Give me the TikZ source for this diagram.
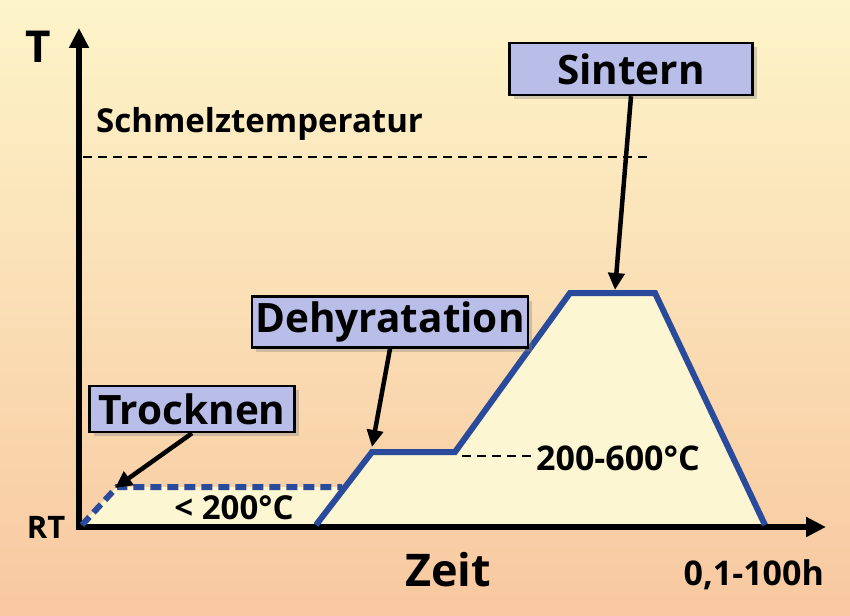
\documentclass[tikz,border=0pt]{standalone}
\usepackage{fontspec}
\setmainfont{Open Sans}
\usetikzlibrary{arrows.meta, shadows, positioning}

\definecolor{bgtop}{HTML}{FDF4C9}
\definecolor{bgbot}{HTML}{F8C8A0}
\definecolor{curveblue}{HTML}{2A4A9C}
\definecolor{areafill}{HTML}{FCF6D2}
\definecolor{boxfill}{HTML}{B9BEE8}

\begin{document}
\begin{tikzpicture}[x=1pt, y=-1pt,
    axis/.style={line width=6pt, {Triangle[length=20pt,width=19pt]}-{Triangle[length=20pt,width=19pt]}},
    phase/.style={draw=black, line width=2.5pt, fill=boxfill, inner sep=0pt,
      font=\bfseries\fontsize{40.5}{42}\selectfont,
      drop shadow={shadow xshift=4pt, shadow yshift=-4pt, opacity=0.35}},
    pointer/.style={line width=4.5pt, -{Triangle[length=17pt,width=16pt]}},
    heat/.style={draw=curveblue, line width=6pt, line join=miter},
    level/.style={line width=2.5pt, dash pattern=on 9pt off 6pt},
    txt/.style={font=\bfseries\fontsize{34}{36}\selectfont, inner sep=0pt}]
  \useasboundingbox (0,0) rectangle (850,615);
  \shade[top color=bgtop, bottom color=bgbot] (0,0) rectangle (850,615);

  % points of the heating curve
  \coordinate (o) at (79,527);
  \coordinate (d0) at (82,525);
  \coordinate (d1) at (117,487);
  \coordinate (d2) at (342,487);
  \coordinate (h0) at (316,525);
  \coordinate (h1) at (372,452);
  \coordinate (h2) at (455,452);
  \coordinate (h3) at (570,293);
  \coordinate (h4) at (655,293);
  \coordinate (h5) at (765,525);

  \fill[areafill] (o) -- (d1) -- (d2) -- (h1) -- (h2) -- (h3) -- (h4) -- (h5) |- cycle;

  % melting line
  \coordinate (m0) at (83,157);
  \coordinate (m1) at (650,157);
  \draw[level] (m0) -- (m1);
  \node[txt, font=\bfseries\fontsize{33}{35}\selectfont, anchor=south west] (melt) at (96,141) {Schmelztemperatur};

  % axes
  \coordinate (ytip) at (79,28);
  \coordinate (xtip) at (826,527);
  \draw[axis, line join=miter] (ytip) |- (xtip);
  \node[font=\bfseries\fontsize{44}{46}\selectfont] (T) at (38,47) {T};
  \node[txt, font=\bfseries\fontsize{31}{33}\selectfont] (RT) at (46,527) {RT};
  \node[font=\bfseries\fontsize{45}{47}\selectfont] (zeit) at (448,570) {Zeit};
  \node[txt, anchor=east] (dur) at (824,575) {0,1-100h};

  % heating curve
  \draw[heat, dash pattern=on 11pt off 6pt] (d0) -- (d1) -- (d2);
  \draw[heat] (h0) -- (h1) -- (h2) -- (h3) -- (h4) -- (h5);

  % temperatures
  \node[txt, font=\bfseries\fontsize{33}{35}\selectfont] (t1) at (234,508) {< 200°C};
  \coordinate (k0) at (462,456);
  \coordinate (k1) at (532,456);
  \draw[level] (k0) -- (k1);
  \node[txt, anchor=west] (t2) at (536,458) {200-600°C};

  % phases
  \node[phase, minimum width=205pt, minimum height=46pt] (dry) at (192,409) {Trocknen};
  \node[phase, minimum width=276pt, minimum height=51pt] (dehyd) at (390,322) {Dehyratation};
  \node[phase, minimum width=243pt, minimum height=52pt] (sinter) at (631,69) {Sintern};

  \coordinate (a1) at (115,488);
  \coordinate (a2) at (372,447);
  \coordinate (a3) at (615,290);
  \draw[pointer] (dry.south) -- (a1);
  \draw[pointer] (dehyd.south) -- (a2);
  \draw[pointer] (sinter.south) -- (a3);
\end{tikzpicture}
\end{document}
